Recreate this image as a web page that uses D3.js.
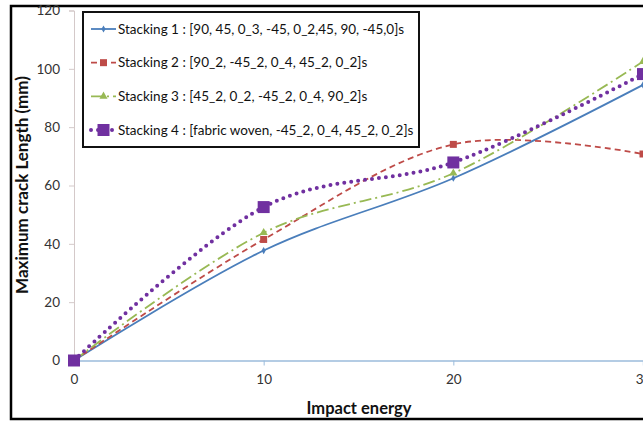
<!DOCTYPE html>
<html><head><meta charset="utf-8">
<script src="https://cdn.jsdelivr.net/npm/d3@7"></script>
<style>
html,body{margin:0;padding:0;background:#fff;overflow:hidden}
text{font-family:Lato,"Open Sans",sans-serif}
</style></head>
<body><svg id="c" width="643" height="426"></svg>
<script>
const energies = [0, 10, 20, 30];
const seriesNames = [
  "Stacking 1 : [90, 45, 0_3, -45, 0_2,45, 90, -45,0]s",
  "Stacking 2 : [90_2, -45_2, 0_4, 45_2, 0_2]s",
  "Stacking 3 : [45_2, 0_2, -45_2, 0_4, 90_2]s",
  "Stacking 4 : [fabric woven, -45_2, 0_4, 45_2, 0_2]s"
];
const stacking1 = [0, 37.7, 62.5, 94.5];
const stacking2 = [0, 41.5, 74.1, 70.8];
const stacking3 = [0, 43.8, 64.2, 102.5];
const stacking4 = [0, 52.6, 67.9, 98.2];
const yTicks = [0, 20, 40, 60, 80, 100, 120];
const xTicks = [0, 10, 20, 30];

const seriesValues = [stacking1, stacking2, stacking3, stacking4];
const styles = [
  {color:"#4a7ebb", dash:null, width:1.8, cap:"butt", marker:"diamond", size:5},
  {color:"#be4b48", dash:"6,4", width:1.8, cap:"butt", marker:"square", size:7},
  {color:"#98b954", dash:"12,4,2,4", width:1.8, cap:"butt", marker:"triangle", size:8},
  {color:"#7030a0", dash:"0,7", width:4, cap:"round", marker:"square", size:12}
];

const svg = d3.select("#c");
const x = d3.scaleLinear().domain([0, 30]).range([74, 643]);
const y = d3.scaleLinear().domain([0, 120]).range([360.5, 10.5]);

// outer frame
svg.append("rect").attr("x", 11).attr("y", 6).attr("width", 700).attr("height", 413)
  .attr("fill", "none").attr("stroke", "#000").attr("stroke-width", 2.5);

// y axis
const ya = svg.append("g").attr("transform", `translate(${x(0)},0)`)
  .call(d3.axisLeft(y).tickValues(yTicks).tickSize(5).tickPadding(9));
ya.select(".domain").attr("stroke", "#d4c9c9").attr("stroke-width", 1);
ya.selectAll(".tick line").attr("stroke", "#d4c9c9");
ya.selectAll(".tick text").attr("fill", "#333").style("font-size", "13.5px");

// x axis
const xa = svg.append("g").attr("transform", `translate(0,${y(0)})`)
  .call(d3.axisBottom(x).tickValues(xTicks).tickSize(5).tickPadding(9));
xa.select(".domain").attr("stroke", "#9cbcdc").attr("stroke-width", 1.3);
xa.selectAll(".tick line").attr("stroke", "#9cbcdc");
xa.selectAll(".tick text").attr("fill", "#333").style("font-size", "13.5px");

// axis titles
svg.append("text").attr("transform", "translate(28,185) rotate(-90)")
  .attr("text-anchor", "middle").style("font-size", "17px").style("font-weight", "bold")
  .attr("fill", "#111").text("Maximum crack Length (mm)");
svg.append("text").attr("x", 359).attr("y", 414)
  .attr("text-anchor", "middle").style("font-size", "16.5px").style("font-weight", "bold")
  .attr("fill", "#111").text("Impact energy");

function markerPath(type, s) {
  if (type === "diamond") return d3.symbol(d3.symbolDiamond, s * s * 0.6)();
  if (type === "triangle") return d3.symbol(d3.symbolTriangle, s * s * 0.45)();
  return `M${-s/2},${-s/2}h${s}v${s}h${-s}Z`;
}

svg.append("defs").append("clipPath").attr("id", "pc")
  .append("rect").attr("x", 0).attr("y", 0).attr("width", 643).attr("height", 426);
const plot = svg.append("g").attr("clip-path", "url(#pc)");

const line = d3.line().x((d, i) => x(energies[i])).y(d => y(d)).curve(d3.curveCatmullRom.alpha(0));

seriesValues.forEach((vals, k) => {
  const st = styles[k];
  plot.append("path").datum(vals).attr("d", line)
    .attr("fill", "none").attr("stroke", st.color).attr("stroke-width", st.width)
    .attr("stroke-dasharray", st.dash).attr("stroke-linecap", st.cap);
  plot.selectAll(null).data(vals).enter().append("path")
    .attr("transform", (d, i) => `translate(${x(energies[i])},${y(d)})`)
    .attr("d", markerPath(st.marker, st.size)).attr("fill", st.color);
});

// legend
const lg = svg.append("g");
lg.append("rect").attr("x", 83).attr("y", 12).attr("width", 336).attr("height", 135)
  .attr("fill", "#fff").attr("stroke", "#111").attr("stroke-width", 2);
const ly = d3.scalePoint().domain(d3.range(4)).range([29, 130]);
seriesNames.forEach((name, k) => {
  const st = styles[k];
  const yy = ly(k);
  lg.append("line").attr("x1", 91).attr("x2", 116).attr("y1", yy).attr("y2", yy)
    .attr("stroke", st.color).attr("stroke-width", st.width)
    .attr("stroke-dasharray", st.dash).attr("stroke-linecap", st.cap);
  lg.append("path").attr("transform", `translate(103.5,${yy})`)
    .attr("d", markerPath(st.marker, st.size)).attr("fill", st.color);
  lg.append("text").attr("x", 118).attr("y", yy).attr("dy", "0.35em")
    .style("font-size", "13.5px").attr("fill", "#111").text(name);
});
</script></body></html>
